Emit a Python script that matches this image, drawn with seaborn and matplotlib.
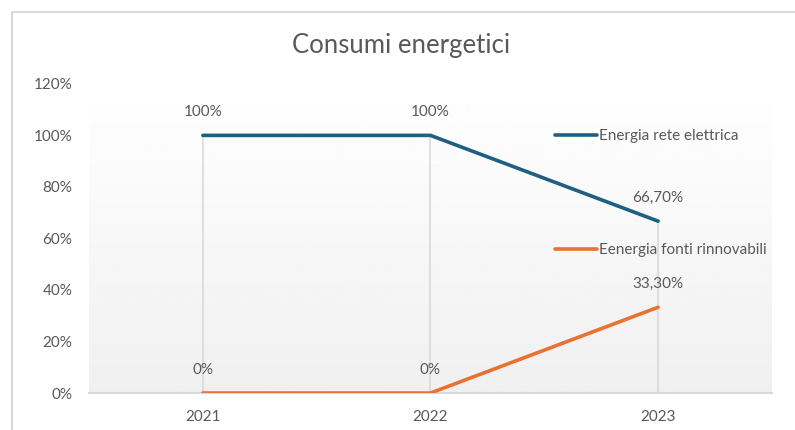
import numpy as np
import pandas as pd
import matplotlib.pyplot as plt
import seaborn as sns
from matplotlib.patches import Rectangle

sns.set_style("white")
plt.rcParams['font.family'] = ['Lato', 'DejaVu Sans']

# data (percent)
years = ['2021', '2022', '2023']
rete = [100, 100, 66.7]
rinnovabili = [0, 0, 33.3]
series_names = ['Energia rete elettrica', 'Eenergia fonti rinnovabili']
colors = ['#1f5f80', '#e97132']
title = 'Consumi energetici'

df = pd.DataFrame({
    'anno': years * 2,
    'valore': rete + rinnovabili,
    'serie': [series_names[0]] * 3 + [series_names[1]] * 3,
})

text_col = '#595959'
grid_col = '#d9d9d9'

fig = plt.figure(figsize=(7.95, 4.30), dpi=100)
ax = fig.add_axes([0.112, 0.086, 0.859, 0.719])

# chart frame (cropped on the right and bottom like the original)
fig.patches.append(Rectangle((12 / 795, -0.05), 1.0, 1 - 12 / 430 + 0.05,
                             transform=fig.transFigure, fill=False,
                             edgecolor=grid_col, linewidth=1.5))

# gradient plot area
grad = np.linspace(1.0, 0.94, 256).reshape(-1, 1)
ax.imshow(grad, cmap='gray', vmin=0, vmax=1, aspect='auto',
          extent=[-0.5, 2.5, 0, 120], zorder=0)

# drop lines from the highest point to the axis
x_pos = np.arange(len(years))
top = np.maximum(rete, rinnovabili)
ax.vlines(x_pos, 0, top, color=grid_col, linewidth=1.2, zorder=1)

sns.lineplot(data=df, x='anno', y='valore', hue='serie', palette=colors,
             linewidth=2.6, ax=ax, zorder=3, sort=False)

# data labels
def fmt(v):
    if float(v).is_integer():
        return f'{v:.0f}%'
    return f'{v:.2f}%'.replace('.', ',')

for vals in (rete, rinnovabili):
    for x, v in zip(x_pos, vals):
        ax.annotate(fmt(v), (x, v), xytext=(0, 16.5), textcoords='offset points',
                    ha='center', va='center', fontsize=11, color=text_col, zorder=4)

ax.set_xlim(-0.5, 2.5)
ax.set_ylim(0, 120)
ax.set_yticks(np.arange(0, 121, 20))
ax.set_yticklabels([f'{t}%' for t in range(0, 121, 20)])
ax.set_xlabel('')
ax.set_ylabel('')
ax.tick_params(axis='both', length=0, labelsize=11, labelcolor=text_col)
ax.tick_params(axis='y', pad=12)
ax.tick_params(axis='x', pad=12)

for side in ['top', 'right', 'left']:
    ax.spines[side].set_visible(False)
ax.spines['bottom'].set_color(grid_col)
ax.spines['bottom'].set_linewidth(1.5)

fig.text(0.505, 1 - 45 / 430, title, ha='center', va='center',
         fontsize=18.5, color=text_col)

leg = ax.legend(loc='upper left', bbox_to_anchor=(555 / 795, 1 - 129 / 430),
                bbox_transform=fig.transFigure, frameon=False, fontsize=11,
                handlelength=2.75, handletextpad=0.1, labelspacing=6.55,
                borderpad=0, borderaxespad=0)
for t in leg.get_texts():
    t.set_color(text_col)

fig.savefig('out.png', dpi=100)
